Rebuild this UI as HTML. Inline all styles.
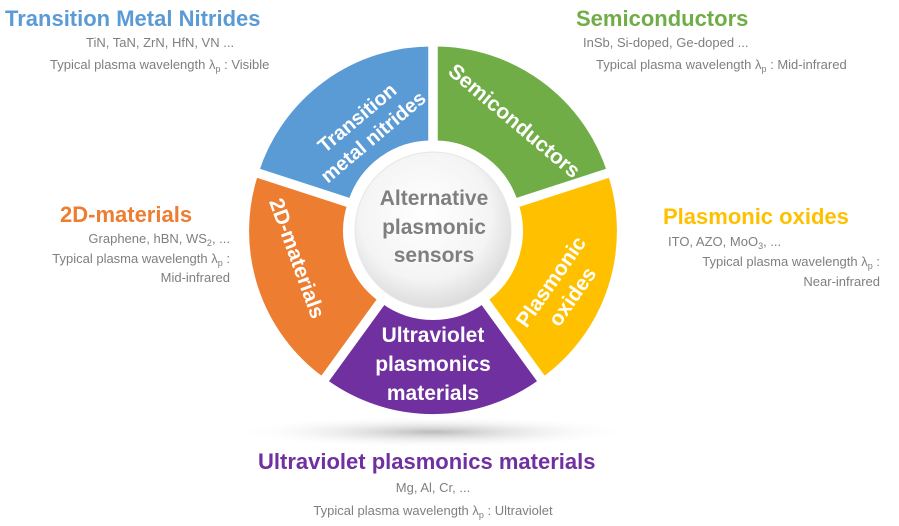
<!DOCTYPE html>
<html><head><meta charset="utf-8"><style>
body{margin:0;background:#fff;width:899px;height:521px;overflow:hidden;font-family:"Liberation Sans",sans-serif}
</style></head><body>
<svg width="899" height="521" viewBox="0 0 899 521" xmlns="http://www.w3.org/2000/svg" font-family="Liberation Sans, sans-serif">
<defs>
<radialGradient id="sh" cx="0.5" cy="0.5" r="0.5"><stop offset="0" stop-color="#bbb"/><stop offset="1" stop-color="#fff" stop-opacity="0"/></radialGradient>
<radialGradient id="cg" cx="0.45" cy="0.4" r="0.6"><stop offset="0" stop-color="#fff"/><stop offset="0.7" stop-color="#f4f4f4"/><stop offset="1" stop-color="#dcdcdc"/></radialGradient>
<path id="seg" d="M -49.4 -68 L -108.2 -148.9 A 184 184 0 0 1 108.2 -148.9 L 49.4 -68 A 84 84 0 0 0 -49.4 -68 Z" stroke="#fff" stroke-width="6"/>
</defs>
<ellipse cx="433" cy="432" rx="200" ry="16" fill="url(#sh)"/>
<g transform="translate(433 230)">
<use href="#seg" fill="#5b9bd5" transform="rotate(-36) translate(0 -3)"/>
<use href="#seg" fill="#70ad47" transform="rotate(36) translate(0 -3)"/>
<use href="#seg" fill="#ffc000" transform="rotate(108) translate(0 -3)"/>
<use href="#seg" fill="#7030a0" transform="rotate(180) translate(0 -3)"/>
<use href="#seg" fill="#ed7d31" transform="rotate(252) translate(0 -3)"/>
<circle r="78" fill="url(#cg)" stroke="#e6e6e6" stroke-width="1"/>
</g>
<g fill="#7f7f7f" font-weight="bold" font-size="21" text-anchor="middle">
<text x="434" y="205">Alternative</text><text x="434" y="234">plasmonic</text><text x="434" y="262">sensors</text>
</g>
<g fill="#fff" font-weight="bold" font-size="21" text-anchor="middle">
<g transform="translate(364 126) rotate(-40)" font-size="20"><text y="-4">Transition</text><text y="21">metal nitrides</text></g>
<text transform="translate(515 120) rotate(40)" y="8">Semiconductors</text>
<text transform="translate(298 258) rotate(70)" y="8">2D-materials</text>
<g transform="translate(560 288) rotate(-55)"><text y="-4">Plasmonic</text><text y="22">oxides</text></g>
<text x="433" y="342">Ultraviolet</text><text x="433" y="371">plasmonics</text><text x="433" y="400">materials</text>
</g>
<g font-weight="bold" font-size="22">
<text x="5" y="26" fill="#5b9bd5">Transition Metal Nitrides</text>
<text x="576" y="26" fill="#70ad47">Semiconductors</text>
<text x="60" y="222" fill="#ed7d31">2D-materials</text>
<text x="663" y="224" fill="#ffc000">Plasmonic oxides</text>
<text x="258" y="469" fill="#7030a0">Ultraviolet plasmonics materials</text>
</g>
<g fill="#7f7f7f" font-size="13">
<text x="86" y="47">TiN, TaN, ZrN, HfN, VN ...</text>
<text x="50" y="69">Typical plasma wavelength λ<tspan font-size="9" dy="3">p</tspan><tspan dy="-3"> : Visible</tspan></text>
<text x="583" y="47">InSb, Si-doped, Ge-doped ...</text>
<text x="596" y="69">Typical plasma wavelength λ<tspan font-size="9" dy="3">p</tspan><tspan dy="-3"> : Mid-infrared</tspan></text>
<text x="230" y="243" text-anchor="end">Graphene, hBN, WS<tspan font-size="9" dy="3">2</tspan><tspan dy="-3">, ...</tspan></text>
<text x="230" y="263" text-anchor="end">Typical plasma wavelength λ<tspan font-size="9" dy="3">p</tspan><tspan dy="-3"> :</tspan></text>
<text x="230" y="282" text-anchor="end">Mid-infrared</text>
<text x="668" y="246">ITO, AZO, MoO<tspan font-size="9" dy="3">3</tspan><tspan dy="-3">, ...</tspan></text>
<text x="880" y="266" text-anchor="end">Typical plasma wavelength λ<tspan font-size="9" dy="3">p</tspan><tspan dy="-3"> :</tspan></text>
<text x="880" y="286" text-anchor="end">Near-infrared</text>
<text x="433" y="492" text-anchor="middle">Mg, Al, Cr, ...</text>
<text x="433" y="515" text-anchor="middle">Typical plasma wavelength λ<tspan font-size="9" dy="3">p</tspan><tspan dy="-3"> : Ultraviolet</tspan></text>
</g>
</svg>
</body></html>
